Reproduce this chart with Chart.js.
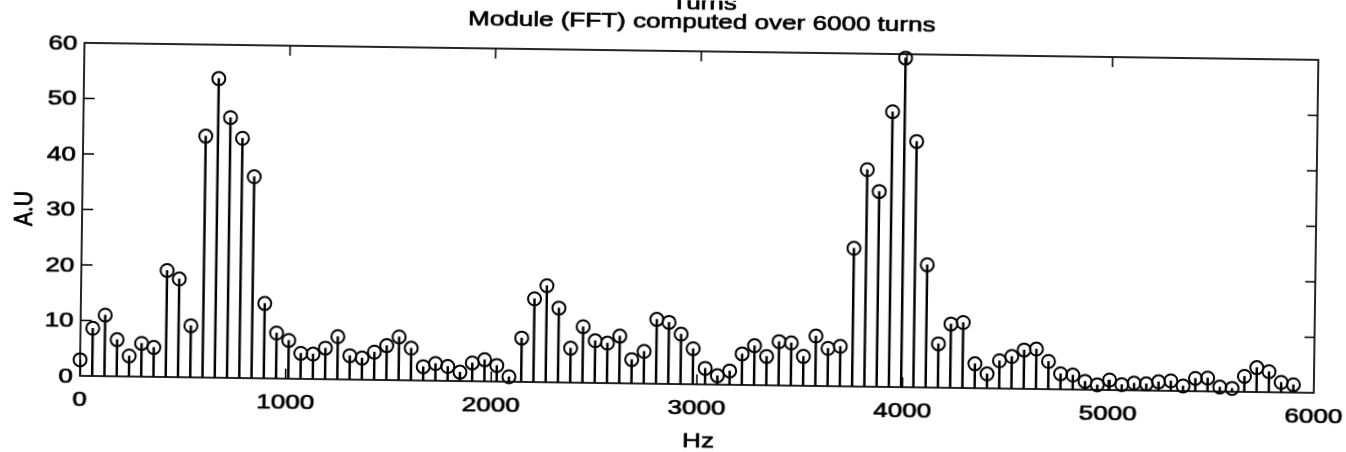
<!DOCTYPE html>
<html>
<head>
<meta charset="utf-8">
<script src="https://cdn.jsdelivr.net/npm/chart.js@4/dist/chart.umd.min.js"></script>
<style>
  html, body { margin: 0; padding: 0; background: #fff; overflow: hidden; }
  #wrap {
    width: 1346px; height: 452px;
    transform: rotate(0.79deg);
    transform-origin: 673px 226px;
  }
  canvas { display: block; }
</style>
</head>
<body>
<div id="wrap"><canvas id="fft" width="1346" height="452"></canvas></div>
<script>
// FFT magnitude spectrum, one stem per frequency bin
const FREQ_STEP = 59.6; // Hz between bins

const AMPLITUDE = [
  2.9, 8.6, 11.0, 6.6, 3.7, 6.0, 5.3, 19.2, 17.7, 9.3,
  43.5, 53.9, 46.9, 43.2, 36.3, 13.5, 8.2, 6.9, 4.6, 4.5,
  5.6, 7.7, 4.3, 3.9, 5.0, 6.2, 7.8, 5.8, 2.5, 3.1,
  2.6, 1.6, 3.3, 3.9, 2.9, 0.9, 7.9, 15.0, 17.4, 13.4,
  6.2, 10.1, 7.6, 7.2, 8.5, 4.3, 5.8, 11.6, 11.1, 9.0,
  6.4, 2.9, 1.6, 2.5, 5.6, 7.1, 5.2, 7.9, 7.7, 5.3,
  9.0, 6.8, 7.2, 24.9, 39.1, 35.2, 49.6, 59.3, 44.3, 22.1,
  7.9, 11.5, 11.8, 4.4, 2.6, 5.0, 5.8, 7.0, 7.2, 5.0,
  2.8, 2.6, 1.5, 0.9, 1.8, 1.0, 1.3, 1.2, 1.6, 1.8,
  0.9, 2.3, 2.4, 0.8, 0.6, 2.8, 4.4, 3.7, 1.8, 1.4
];

const FREQUENCIES = AMPLITUDE.map((_, i) => Math.round(i * FREQ_STEP * 10) / 10);

const X_TICKS = [0, 1000, 2000, 3000, 4000, 5000, 6000];
const Y_TICKS = [0, 10, 20, 30, 40, 50, 60];

const TITLE_LINES = ['Turns', 'Module (FFT) computed over 6000 turns'];
const X_LABEL = 'Hz';
const Y_LABEL = 'A.U';

const FONT = '21px "Liberation Sans", Arial, Helvetica, sans-serif';
const STRETCH = 1.24;   // wide lettering
const INK = '#000';

const points = FREQUENCIES.map((f, i) => ({ x: f, y: AMPLITUDE[i] }));

function txt(ctx, s, x, y, align, base, rot) {
  ctx.save();
  ctx.translate(x, y);
  ctx.scale(STRETCH, 1);
  if (rot) ctx.rotate(rot);
  ctx.font = FONT;
  ctx.fillStyle = INK;
  ctx.strokeStyle = INK;
  ctx.lineWidth = 0.7;
  ctx.lineJoin = 'round';
  ctx.textAlign = align;
  ctx.textBaseline = base;
  ctx.fillText(s, 0, 0);
  ctx.strokeText(s, 0, 0);
  ctx.restore();
}

// Box frame with inward ticks on all four sides
const framePlugin = {
  id: 'frame',
  beforeDatasetsDraw(chart) {
    const { ctx, chartArea: a, scales: { x, y } } = chart;
    ctx.save();
    ctx.strokeStyle = INK;
    ctx.lineWidth = 1.7;
    ctx.strokeRect(a.left, a.top, a.right - a.left, a.bottom - a.top);
    ctx.lineWidth = 1.5;
    ctx.beginPath();
    X_TICKS.slice(1, -1).forEach(v => {
      const px = x.getPixelForValue(v);
      ctx.moveTo(px, a.top); ctx.lineTo(px, a.top + 10);
      ctx.moveTo(px, a.bottom); ctx.lineTo(px, a.bottom - 10);
    });
    Y_TICKS.slice(1, -1).forEach(v => {
      const py = y.getPixelForValue(v);
      ctx.moveTo(a.left, py); ctx.lineTo(a.left + 11, py);
      ctx.moveTo(a.right, py); ctx.lineTo(a.right - 10, py);
    });
    ctx.stroke();
    ctx.restore();
  },
  afterDraw(chart) {
    const { ctx, chartArea: a, scales: { x, y } } = chart;
    Y_TICKS.forEach(v => txt(ctx, String(v), a.left - 7, y.getPixelForValue(v) + 1, 'right', 'middle'));
    X_TICKS.forEach(v => txt(ctx, String(v), x.getPixelForValue(v), a.bottom + 24, 'center', 'middle'));
    const cx = (a.left + a.right) / 2;
    txt(ctx, X_LABEL, cx + 2, a.bottom + 57, 'center', 'middle');
    txt(ctx, Y_LABEL, 25, (a.top + a.bottom) / 2, 'center', 'middle', -Math.PI / 2);
    txt(ctx, TITLE_LINES[0], cx + 2, 8.5, 'center', 'alphabetic');
    txt(ctx, TITLE_LINES[1], cx, 28, 'center', 'alphabetic');
  }
};

new Chart(document.getElementById('fft'), {
  type: 'bar',
  data: {
    datasets: [
      {
        type: 'bar',
        data: points,
        backgroundColor: INK,
        borderWidth: 0,
        barThickness: 1.8,
        grouped: false,
        order: 2
      },
      {
        type: 'scatter',
        data: points,
        showLine: false,
        pointStyle: 'circle',
        pointRadius: 6.5,
        pointBorderWidth: 2,
        pointBorderColor: INK,
        pointBackgroundColor: 'rgba(0,0,0,0)',
        clip: false,
        order: 1
      }
    ]
  },
  options: {
    responsive: false,
    devicePixelRatio: 1,
    animation: false,
    events: [],
    layout: { padding: { left: 82, right: 30, top: 51, bottom: 68 } },
    plugins: { legend: { display: false }, tooltip: { enabled: false }, title: { display: false } },
    scales: {
      x: { type: 'linear', min: 0, max: 6000, offset: false, display: false },
      y: { type: 'linear', min: 0, max: 60, display: false }
    }
  },
  plugins: [framePlugin]
});
</script>
</body>
</html>
